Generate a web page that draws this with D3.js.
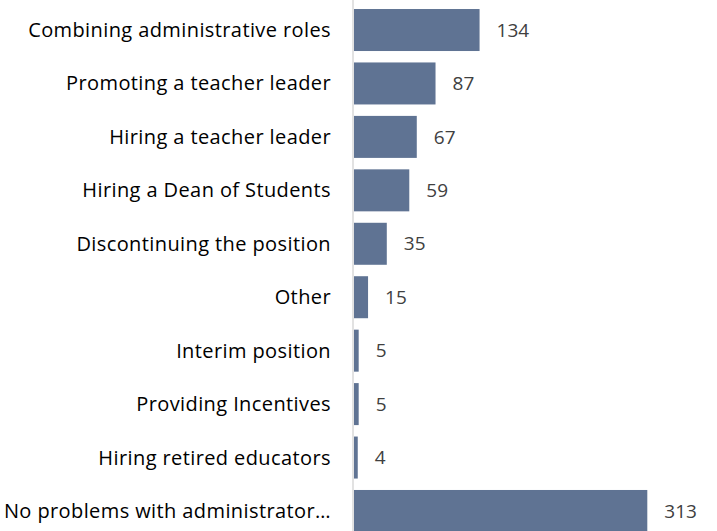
<!DOCTYPE html>
<html>
<head>
<meta charset="utf-8">
<script src="https://cdn.jsdelivr.net/npm/d3@7"></script>
<style>
  body { margin: 0; background: #fff; }
  svg { display: block; }
</style>
</head>
<body>
<script>
// categories, top to bottom
var categories = [
  "Combining administrative roles",
  "Promoting a teacher leader",
  "Hiring a teacher leader",
  "Hiring a Dean of Students",
  "Discontinuing the position",
  "Other",
  "Interim position",
  "Providing Incentives",
  "Hiring retired educators",
  "No problems with administrator\u2026"
];
var counts = [134, 87, 67, 59, 35, 15, 5, 5, 4, 313];

var W = 717, H = 531;
var x0 = 354;

var svg = d3.select("body").append("svg")
    .attr("width", W)
    .attr("height", H);

var data = categories.map(function(c, i) { return { name: c, value: counts[i] }; });

var xScale = d3.scaleLinear().domain([0, 313]).range([x0, 647.3]);
var yScale = d3.scaleBand()
    .domain(categories)
    .range([3.3, 537.7])
    .paddingInner(0.214)
    .paddingOuter(0.107);

// bars
svg.selectAll("rect.bar")
    .data(data)
    .enter().append("rect")
    .attr("class", "bar")
    .attr("x", xScale(0))
    .attr("y", function(d) { return yScale(d.name); })
    .attr("width", function(d) { return xScale(d.value) - xScale(0); })
    .attr("height", yScale.bandwidth())
    .attr("fill", "#5f7393");

// vertical axis line
svg.append("line")
    .attr("x1", 353).attr("x2", 353)
    .attr("y1", 0).attr("y2", H)
    .attr("stroke", "#d9d9d9")
    .attr("stroke-width", 1.5);

// category labels
svg.selectAll("text.cat")
    .data(data)
    .enter().append("text")
    .attr("class", "cat")
    .attr("x", 331)
    .attr("y", function(d) { return yScale(d.name) + yScale.bandwidth() / 2; })
    .attr("dy", "0.35em")
    .attr("text-anchor", "end")
    .style("font-family", "'Open Sans', sans-serif")
    .style("font-size", "20px")
    .style("letter-spacing", "0.4px")
    .style("fill", "#000")
    .text(function(d) { return d.name; });

// value labels
svg.selectAll("text.val")
    .data(data)
    .enter().append("text")
    .attr("class", "val")
    .attr("x", function(d) { return xScale(d.value) + 17; })
    .attr("y", function(d) { return yScale(d.name) + yScale.bandwidth() / 2; })
    .attr("dy", "0.35em")
    .style("font-family", "'Open Sans', sans-serif")
    .style("font-size", "19px")
    .style("fill", "#404040")
    .text(function(d) { return d.value; });
</script>
</body>
</html>
